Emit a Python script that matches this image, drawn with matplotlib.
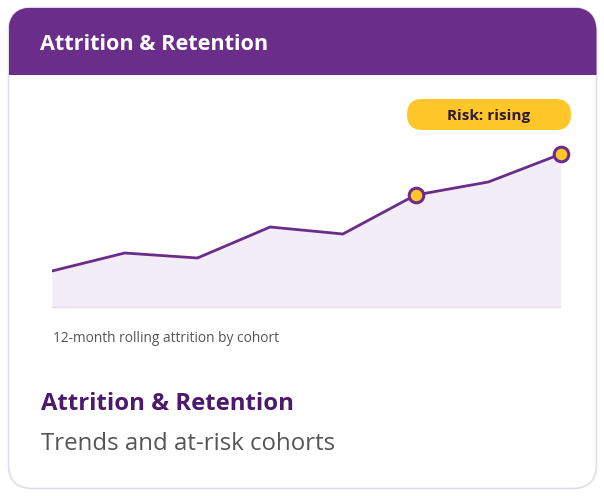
import matplotlib.pyplot as plt
from matplotlib.patches import FancyBboxPatch, Rectangle

# chart data (attrition %, by cohort)
cohorts = ['C1', 'C2', 'C3', 'C4', 'C5', 'C6', 'C7', 'C8']
attrition = [3.7, 5.5, 5.0, 8.1, 7.4, 11.3, 12.6, 15.4]
flagged = [5, 7]  # at-risk cohorts

title = 'Attrition & Retention'
subtitle = 'Trends and at-risk cohorts'
caption = '12-month rolling attrition by cohort'
badge = 'Risk: rising'

PURPLE = '#6B2D8A'
DARK_PURPLE = '#4B1A6B'
YELLOW = '#FFC629'
FILL = '#F3EDF8'
GRAY = '#555555'

W, H = 604, 496
fig = plt.figure(figsize=(W / 100, H / 100), dpi=100)
plt.rcParams['font.family'] = ['Open Sans', 'DejaVu Sans']


def px(x, y):
    # pixel coords (top-left origin) to figure fraction
    return x / W, 1 - y / H


bg = fig.add_axes([0, 0, 1, 1])
bg.set_xlim(0, W)
bg.set_ylim(H, 0)
bg.axis('off')

# card with rounded corners
card = FancyBboxPatch((8.5, 7.5), 588, 481, boxstyle='round,pad=0,rounding_size=24',
                      facecolor='white', edgecolor='#E3DCEB', linewidth=1.2)
bg.add_patch(card)
# header band, clipped to the card
header = Rectangle((8.5, 7.5), 588, 67, facecolor=PURPLE, edgecolor='none')
bg.add_patch(header)
header.set_clip_path(card)

bg.text(40, 50, title, color='white', fontsize=15.6, fontweight='bold', va='baseline')

# risk badge
pill = FancyBboxPatch((407, 99), 164, 31, boxstyle='round,pad=0,rounding_size=15.5',
                      facecolor=YELLOW, edgecolor='none')
bg.add_patch(pill)
bg.text(489, 120, badge, color='#2A1A2E', fontsize=11, fontweight='bold',
        ha='center', va='baseline')

bg.text(53, 342.5, caption, color=GRAY, fontsize=9.9, va='baseline')
bg.text(41, 410.5, title, color=DARK_PURPLE, fontsize=17.2, fontweight='bold', va='baseline')
bg.text(41, 450, subtitle, color=GRAY, fontsize=17.3, va='baseline')

# line chart area: left 52, right 561, bottom 308, top 154
l, b = px(52, 308)
r, t = px(561, 154)
ax = fig.add_axes([l, b, r - l, t - b])
ax.patch.set_alpha(0)
xs = list(range(len(cohorts)))
ax.fill_between(xs, attrition, 0, color=FILL, linewidth=0)
ax.plot(xs, attrition, color=PURPLE, linewidth=2, solid_joinstyle='miter')
ax.axhline(0, color='#E6DDEE', linewidth=2.5)
ax.plot([xs[i] for i in flagged], [attrition[i] for i in flagged], 'o',
        markersize=10.5, markerfacecolor=YELLOW, markeredgecolor=PURPLE,
        markeredgewidth=2.2, clip_on=False, zorder=5)
ax.set_xlim(0, len(cohorts) - 1)
ax.set_ylim(0, max(attrition))
ax.axis('off')

fig.savefig('out.png', dpi=100)
